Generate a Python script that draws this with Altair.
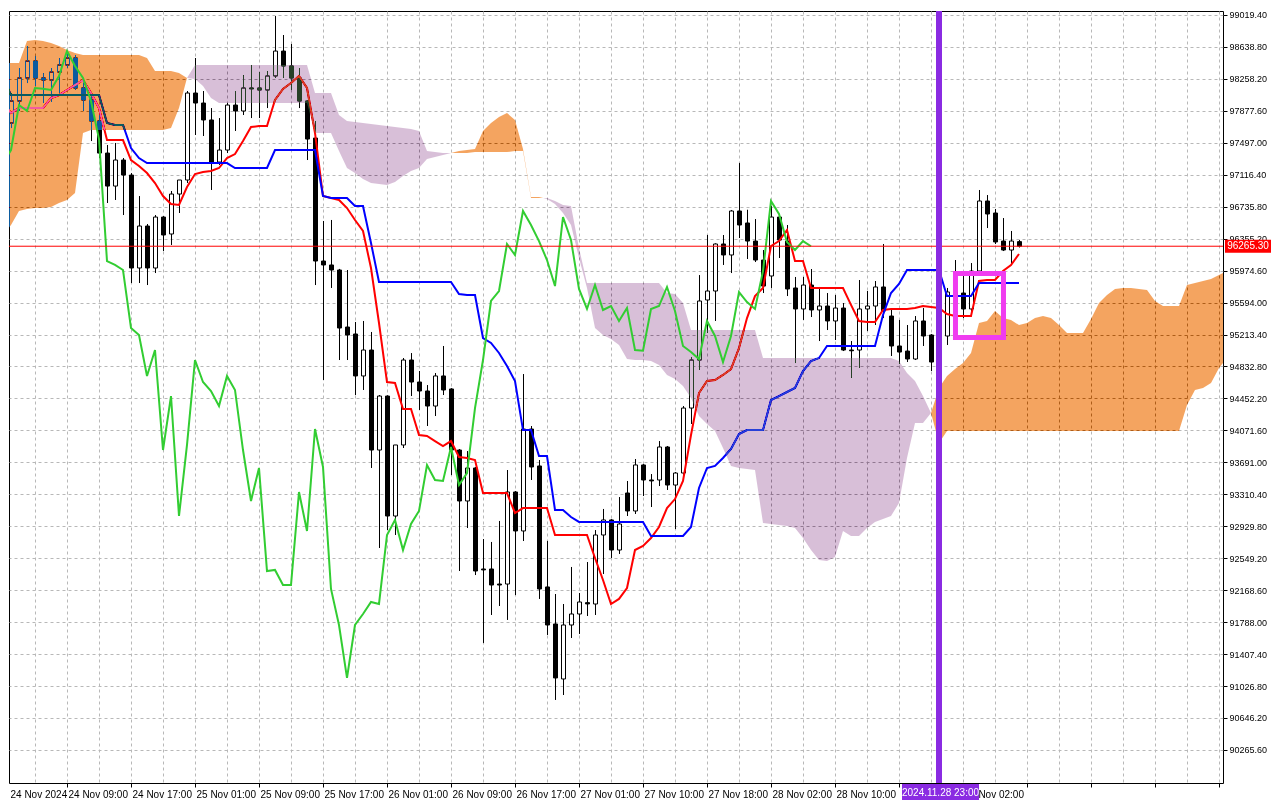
import altair as alt
import pandas as pd
import numpy as np

# ---------------- data ----------------
bar_open = [97757, 97733, 97995, 98269, 98471, 98269, 98245, 98340, 98424, 98507,
            98150, 98007, 97757, 97375, 96982, 97292, 97113, 96006, 96506, 96006,
            96613, 96411, 96887, 97054, 98090, 97971, 97769, 97268, 97411, 97947,
            97876, 98150, 98150, 98126, 98293, 98590, 98412, 98269, 97995, 97554,
            96089, 96042, 95982, 95303, 95220, 94720, 95029, 93838, 94481, 93052,
            93898, 94910, 94648, 94541, 94362, 94720, 94565, 93838, 93231, 93624,
            92421, 92421, 92242, 92242, 93338, 92874, 94088, 93648, 92207, 91766,
            91111, 91754, 91885, 92020, 92004, 92826, 93005, 92647, 93326, 93112,
            93660, 93481, 93481, 93874, 93421, 93564, 94338, 94910, 95625, 95732,
            96292, 96161, 96685, 96542, 96327, 96101, 95911, 96613, 96327, 95768,
            95518, 95803, 95506, 95553, 95375, 95529, 95029, 95029, 95518, 95553,
            95780, 95434, 95077, 95017, 94922, 95375, 95208, 94898, 95196, 95720,
            95708, 95518, 95970, 96804, 96661, 96327, 96220, 96320]
bar_high = [97828, 98090, 98388, 98650, 98531, 98328, 98388, 98507, 98590, 98543,
            98233, 98054, 97828, 97471, 97495, 97316, 97137, 96863, 96530, 96637,
            96625, 96923, 97054, 98114, 98507, 98114, 97911, 97792, 97971, 98114,
            98304, 98424, 98340, 98352, 99007, 98781, 98674, 98388, 98007, 97757,
            96566, 96578, 95995, 95982, 95363, 95375, 95244, 94493, 94490, 93898,
            94934, 94993, 94779, 94612, 94755, 95077, 94575, 93850, 93826, 93635,
            92778, 92743, 92993, 93600, 93350, 94743, 94124, 93719, 92754, 92123,
            92004, 92445, 92135, 92504, 92885, 93136, 93015, 93278, 93469, 93731,
            93670, 93552, 93945, 93886, 93576, 94362, 94946, 95922, 96399, 96300,
            96399, 96697, 97256, 96700, 96589, 96220, 96744, 96637, 96518, 95899,
            95899, 95994, 95780, 95708, 95684, 95589, 95136, 95863, 95732, 95851,
            96292, 95506, 95387, 95327, 95434, 95529, 95220, 95291, 95768, 96101,
            95922, 96065, 96935, 96875, 96709, 96601, 96447, 96340]
bar_low = [97638, 97673, 97876, 98209, 98173, 97971, 97983, 98090, 98388, 98126,
           97876, 97518, 97316, 96780, 96816, 96637, 95827, 95827, 95803, 95946,
           96208, 96280, 96661, 97018, 97590, 97578, 96935, 97233, 97375, 97638,
           97828, 97792, 97792, 97911, 98269, 98269, 98126, 97911, 97292, 95803,
           94672, 95768, 94910, 94910, 94493, 94553, 93624, 92671, 92885, 92826,
           93862, 94481, 94315, 94124, 94243, 94493, 93540, 92397, 92909, 92349,
           91540, 91873, 91980, 91814, 92111, 92754, 93481, 92064, 91635, 90861,
           90920, 91599, 91647, 91861, 91873, 92361, 92552, 92600, 93052, 93076,
           93290, 93159, 93409, 93362, 92897, 93540, 94148, 94791, 95232, 95375,
           96042, 95946, 96363, 96113, 96077, 95708, 95768, 96125, 95672, 94874,
           95387, 95422, 95136, 95267, 95148, 95017, 94696, 94815, 95256, 95327,
           95410, 94958, 94862, 94886, 94910, 95077, 94779, 94851, 95089, 95196,
           95410, 95434, 95946, 96482, 96292, 96208, 96042, 96250]
bar_close = [97709, 97995, 98269, 98471, 98269, 98245, 98340, 98424, 98507, 98150,
             98007, 97757, 97375, 96982, 97292, 97113, 96006, 96506, 96006, 96613,
             96399, 96887, 97054, 98090, 97971, 97769, 97256, 97411, 97947, 97876,
             98150, 98140, 98126, 98293, 98590, 98412, 98269, 97995, 97542, 96089,
             96042, 95982, 95291, 95208, 94720, 95029, 93838, 94481, 93052, 93898,
             94910, 94648, 94541, 94362, 94720, 94553, 93838, 93231, 93624, 92397,
             92410, 92230, 92230, 93338, 92874, 94088, 93636, 92183, 91754, 91123,
             91754, 91885, 92028, 92005, 92826, 93005, 92647, 92957, 93112, 93660,
             93481, 93470, 93874, 93421, 93564, 94338, 94910, 95613, 95732, 96292,
             96161, 96685, 96518, 96327, 96101, 95791, 96613, 96339, 95756, 95518,
             95803, 95506, 95553, 95375, 95529, 95029, 95020, 95518, 95553, 95780,
             95494, 95077, 95005, 94922, 95375, 95196, 94886, 95196, 95720, 95600,
             95518, 95970, 96804, 96649, 96316, 96220, 96327, 96265.3]

tenkan = [97983, 97852, 97911, 97911, 97911, 97911, 98031, 98066, 98126, 98185,
          98245, 98090, 97911, 97530, 97530, 97530, 97292, 97221, 97137, 97018,
          96863, 96768, 96756, 96971, 97125, 97149, 97161, 97197, 97316, 97363,
          97518, 97685, 97697, 97697, 98007, 98138, 98209, 98293, 98150, 97614,
          96863, 96839, 96816, 96720, 96578, 96447, 96006, 95351, 94648, 94636,
          94327, 94327, 94017, 94005, 93945, 93886, 93945, 93755, 93743, 93719,
          93326, 93326, 93326, 93326, 93088, 93147, 93147, 93147, 93147, 92826,
          92826, 92826, 92826, 92826, 92552, 92290, 92004, 92064, 92195, 92647,
          92695, 92790, 92921, 93147, 93254, 93469, 94017, 94517, 94660, 94672,
          94732, 94803, 95053, 95410, 95672, 95768, 96268, 96327, 96459, 96089,
          96089, 95768, 95768, 95768, 95768, 95768, 95566, 95375, 95363, 95363,
          95506, 95518, 95518, 95518, 95529, 95553, 95541, 95529, 95458, 95434,
          95434, 95434, 95851, 95863, 95863, 95970, 96042, 96173]

kijun = [98269, 98066, 98066, 98066, 98066, 98066, 98066, 98066, 98066, 98066,
         98066, 98066, 98066, 97733, 97709, 97709, 97435, 97316, 97256, 97256,
         97256, 97256, 97256, 97256, 97256, 97256, 97256, 97256, 97256, 97197,
         97197, 97197, 97197, 97197, 97411, 97411, 97411, 97411, 97411, 97411,
         96863, 96839, 96839, 96839, 96744, 96744, 96304, 95839, 95839, 95839,
         95839, 95839, 95839, 95839, 95839, 95839, 95839, 95696, 95684, 95684,
         95172, 95113, 94994, 94839, 94660, 94076, 94076, 93767, 93767, 93124,
         93124, 93040, 92981, 92981, 92981, 92981, 92981, 92981, 92981, 92981,
         92981, 92814, 92814, 92814, 92814, 92814, 92921, 93386, 93624, 93648,
         93743, 93850, 94029, 94076, 94076, 94076, 94434, 94481, 94529, 94577,
         94779, 94898, 94934, 95077, 95077, 95077, 95077, 95077, 95077, 95077,
         95446, 95708, 95815, 95982, 95982, 95982, 95982, 95982, 95672, 95672,
         95672, 95672, 95827, 95827, 95827, 95827, 95827, 95827]

# lagging span, drawn from bar 0 onwards
chikou = [97256, 97411, 97947, 97876, 98150, 98140, 98126, 98293, 98590, 98412,
          98269, 97995, 97542, 96089, 96042, 95982, 95291, 95208, 94720, 95029,
          93838, 94481, 93052, 93898, 94910, 94648, 94541, 94362, 94720, 94553,
          93838, 93231, 93624, 92397, 92410, 92230, 92230, 93338, 92874, 94088,
          93636, 92183, 91754, 91123, 91754, 91885, 92028, 92005, 92826, 93005,
          92647, 92957, 93112, 93660, 93481, 93470, 93874, 93421, 93564, 94338,
          94910, 95613, 95732, 96292, 96161, 96685, 96518, 96327, 96101, 95791,
          96613, 96339, 95756, 95518, 95803, 95506, 95553, 95375, 95529, 95029,
          95020, 95518, 95553, 95780, 95494, 95077, 95005, 94922, 95375, 95196,
          94886, 95196, 95720, 95600, 95518, 95970, 96804, 96649, 96316, 96220,
          96327, 96265.3]

# leading spans (already shifted forward), bars 0..153
span_a = [98447, 98447, 98447, 98709, 98721, 98709, 98686, 98650, 98602, 98567,
          98543, 98543, 98543, 98543, 98543, 98543, 98543, 98543, 98507, 98352,
          98352, 98352, 98328, 98269, 98257, 98173, 98031, 97971, 97971, 97971,
          97971, 97971, 97971, 97971, 97971, 97971, 97971, 97971, 97971, 97614,
          97614, 97614, 97399, 97197, 97137, 97066, 97018, 97006, 96994, 97030,
          97102, 97161, 97197, 97304, 97328, 97352, 97375, 97399, 97411, 97423,
          97638, 97733, 97804, 97852, 97769, 97423, 96851, 96851, 96828, 96768,
          96661, 96518, 96125, 95768, 95291, 95208, 95160, 95089, 94922, 94910,
          94910, 94898, 94851, 94732, 94684, 94601, 94458, 94243, 94148, 94064,
          93862, 93648, 93624, 93612, 93600, 92969, 92957, 92945, 92933, 92909,
          92790, 92647, 92528, 92516, 92564, 92874, 92814, 92814, 92909, 92981,
          93016, 93052, 93207, 93743, 94160, 94160, 94279, 94577, 94720, 94803,
          94874, 94993, 95351, 95375, 95494, 95410, 95387, 95327, 95351, 95410,
          95434, 95410, 95327, 95232, 95232, 95232, 95399, 95589, 95684, 95756,
          95768, 95768, 95756, 95744, 95613, 95553, 95553, 95553, 95803, 95827,
          95851, 95875, 95923, 95970]
span_b = [96399, 96518, 96685, 96709, 96720, 96720, 96732, 96780, 96816, 96899,
          97614, 97649, 97649, 97649, 97649, 97649, 97649, 97649, 97649, 97649,
          97649, 97673, 97911, 98269, 98424, 98424, 98424, 98424, 98424, 98424,
          98424, 98424, 98424, 98424, 98424, 98424, 98424, 98424, 98424, 98090,
          98090, 98090, 97828, 97757, 97745, 97733, 97721, 97709, 97697, 97685,
          97673, 97661, 97638, 97399, 97387, 97375, 97375, 97375, 97375, 97387,
          97387, 97387, 97387, 97387, 97399, 97399, 96839, 96839, 96839, 96804,
          96756, 96744, 96244, 95827, 95827, 95827, 95827, 95827, 95827, 95827,
          95827, 95827, 95827, 95708, 95696, 95589, 95267, 95267, 95267, 95267,
          95267, 95267, 95267, 95267, 95267, 94934, 94934, 94934, 94934, 94934,
          94934, 94934, 94934, 94934, 94934, 94934, 94934, 94934, 94934, 94934,
          94934, 94934, 94898, 94755, 94660, 94481, 94279, 93922, 94064, 94064,
          94064, 94064, 94064, 94064, 94064, 94064, 94064, 94064, 94064, 94064,
          94064, 94064, 94064, 94064, 94064, 94064, 94064, 94064, 94064, 94064,
          94064, 94064, 94064, 94064, 94064, 94064, 94064, 94064, 94374, 94553,
          94577, 94636, 94815, 94934]

date_ticks = [0.75, 8, 16, 24, 32, 40, 48, 56, 64, 72, 80, 88, 96, 104, 120]
date_labels = ["24 Nov 2024", "24 Nov 09:00", "24 Nov 17:00", "25 Nov 01:00",
               "25 Nov 09:00", "25 Nov 17:00", "26 Nov 01:00", "26 Nov 09:00",
               "26 Nov 17:00", "27 Nov 01:00", "27 Nov 10:00", "27 Nov 18:00",
               "28 Nov 02:00", "28 Nov 10:00", "29 Nov 02:00"]
grid_bars = list(range(4, 153, 4))
price_ticks = [90265.60, 90646.20, 91026.80, 91407.40, 91788.00, 92168.60,
               92549.20, 92929.80, 93310.40, 93691.00, 94071.60, 94452.20,
               94832.80, 95213.40, 95594.00, 95974.60, 96355.20, 96735.80,
               97116.40, 97497.00, 97877.60, 98258.20, 98638.80, 99019.40]

last_price = 96265.30
marker_bar = 117
marker_text = "2024.11.28 23:00"
box_bars = [119.06, 125.06]
box_prices = [95178, 95940]

# ---------------- tables ----------------
X_MIN, X_MAX = 0.75, 152.5
N = len(bar_open)
candles = pd.DataFrame({"bar": np.arange(N), "open": bar_open, "high": bar_high,
                        "low": bar_low, "close": bar_close})
ind = pd.DataFrame({"bar": np.arange(N), "tenkan": tenkan, "kijun": kijun})
lag = pd.DataFrame({"bar": np.arange(len(chikou)), "chikou": chikou})

rows = []
for i in range(len(span_a)):
    a, b = span_a[i], span_b[i]
    rows.append((float(i), a, b))
    if i + 1 < len(span_a):
        d1 = a - b
        d2 = span_a[i + 1] - span_b[i + 1]
        if d1 * d2 < 0:
            t = d1 / (d1 - d2)
            yc = a + t * (span_a[i + 1] - a)
            rows.append((i + t, yc, yc))
cloud = pd.DataFrame(rows, columns=["bar", "a", "b"])
# cut the polygon at the edges of the visible window (no clip-path, so the blend works)
edge = pd.DataFrame({"bar": [X_MIN, X_MAX],
                     "a": np.interp([X_MIN, X_MAX], cloud["bar"], cloud["a"]),
                     "b": np.interp([X_MIN, X_MAX], cloud["bar"], cloud["b"])})
cloud = pd.concat([cloud[(cloud["bar"] > X_MIN) & (cloud["bar"] < X_MAX)], edge])
cloud = cloud.sort_values("bar").reset_index(drop=True)
cloud["lo"] = np.minimum(cloud["a"], cloud["b"])

box_df = pd.DataFrame({"x0": [box_bars[0]], "x1": [box_bars[1]],
                       "y0": [box_prices[0]], "y1": [box_prices[1]]})

# ---------------- scales / axes ----------------
FONT = "Liberation Sans"
W, H = 1214, 772
XS = alt.Scale(domain=[X_MIN, X_MAX], nice=False, zero=False, padding=0)
YS = alt.Scale(domain=[89872, 99067], nice=False, zero=False, padding=0)

expr = "''"
for v, lab in reversed(list(zip(date_ticks, date_labels))):
    expr = f"datum.value == {v} ? '{lab}' : ({expr})"
xvals = sorted(set(grid_bars) | set(date_ticks))

XAX = alt.Axis(values=xvals, labelExpr=expr, grid=True, gridColor="#b8b8b8",
               gridDash=[3, 3], gridWidth=1,
               gridOpacity={"condition": {"test": "datum.value < 1", "value": 0}, "value": 1},
               domain=False, ticks=True, tickColor="black", tickSize=4,
               tickOpacity={"condition": {"test": "datum.value % 8 == 0", "value": 1}, "value": 0},
               labelAlign="left", labelBaseline="top", labelPadding=2, labelOffset=1,
               labelFont=FONT, labelFontSize=10, labelColor="black",
               labelFlush=False, labelOverlap=False, labelBound=False, title=None)
YAX = alt.Axis(values=price_ticks, format=".2f", orient="right", grid=True,
               gridColor="#b8b8b8", gridDash=[3, 3], gridWidth=1, domain=False,
               tickColor="black", tickSize=4, labelPadding=2, labelFont=FONT,
               labelFontSize=9, labelColor="black", labelAlign="left",
               labelBaseline="middle", labelFlush=False, labelOverlap=False,
               labelBound=False, title=None)


def X(field):
    return alt.X(field, type="quantitative", scale=XS, axis=XAX, title=None)


def Y(field):
    return alt.Y(field, type="quantitative", scale=YS, axis=YAX, title=None)


base = alt.Chart(candles)

wicks = base.mark_rule(color="black", strokeWidth=1, clip=True, xOffset=0.5).encode(
    x=X("bar"), y=Y("low"), y2="high")
bodies = base.mark_bar(size=4, stroke="black", strokeWidth=1, clip=True, xOffset=0.5).encode(
    x=X("bar"), y=Y("open"), y2="close",
    fill=alt.condition("datum.close >= datum.open", alt.value("white"), alt.value("black")))

tenkan_line = alt.Chart(ind).mark_line(color="#ff0000", strokeWidth=2, clip=True).encode(
    x=X("bar"), y=Y("tenkan"))
kijun_line = alt.Chart(ind).mark_line(color="#0000ff", strokeWidth=2, clip=True).encode(
    x=X("bar"), y=Y("kijun"))

# cloud drawn with "difference" so whatever lies under it is inverted like in the terminal
cloud_up = alt.Chart(cloud).mark_area(color="#0b5b9f", blend="difference",
                                      interpolate="linear").encode(
    x=X("bar"), y=Y("a"), y2="lo")
cloud_dn = alt.Chart(cloud).mark_area(color="#274027", blend="difference",
                                      interpolate="linear").encode(
    x=X("bar"), y=Y("b"), y2="lo")

chikou_line = alt.Chart(lag).mark_line(color="#32cd32", strokeWidth=2, clip=True).encode(
    x=X("bar"), y=Y("chikou"))

price_rule = alt.Chart(pd.DataFrame({"p": [last_price]})).mark_rule(
    color="#ff0000", strokeWidth=1).encode(y=Y("p"))

vline = alt.Chart(pd.DataFrame({"b": [marker_bar]})).mark_rule(
    color="#8a2be2", strokeWidth=6).encode(x=X("b"))

box = alt.Chart(box_df).mark_rect(fillOpacity=0, stroke="#f03cf0", strokeWidth=5,
                                  clip=True).encode(
    x=X("x0"), x2="x1", y=Y("y0"), y2="y1")

lbl_df = pd.DataFrame({"p": [last_price], "t": [f"{last_price:.2f}"]})
price_box = alt.Chart(lbl_df).mark_point(
    shape="M-1,-0.28L1,-0.28L1,0.28L-1,0.28Z", filled=True, fill="#ff0000",
    opacity=1, size=46 * 46).encode(
    x=alt.value(W + 25), y=Y("p"))
price_txt = alt.Chart(lbl_df).mark_text(color="white", font=FONT, fontSize=10,
                                        align="center", baseline="middle").encode(
    x=alt.value(W + 25), y=Y("p"), text="t:N")

dt_df = pd.DataFrame({"t": [marker_text]})
date_box = alt.Chart(dt_df).mark_point(
    shape="M-1,-0.22L1,-0.22L1,0.22L-1,0.22Z", filled=True, fill="#8a2be2",
    opacity=1, size=77 * 77).encode(
    x=alt.value(931.5), y=alt.value(H + 9.5))
date_txt = alt.Chart(dt_df).mark_text(color="white", font=FONT, fontSize=10,
                                      align="center", baseline="middle").encode(
    x=alt.value(931.5), y=alt.value(H + 9.5), text="t:N")

chart = alt.layer(
    wicks, bodies, tenkan_line, kijun_line, cloud_up, cloud_dn, chikou_line,
    price_rule, vline, box, price_box, price_txt, date_box, date_txt
).properties(
    width=W, height=H, padding={"left": 0, "top": 0, "right": 0, "bottom": 0},
    background="white"
).configure_view(stroke="black", strokeWidth=1, fill="white")

chart.save("out.html", embed_options={"renderer": "svg", "actions": False})
